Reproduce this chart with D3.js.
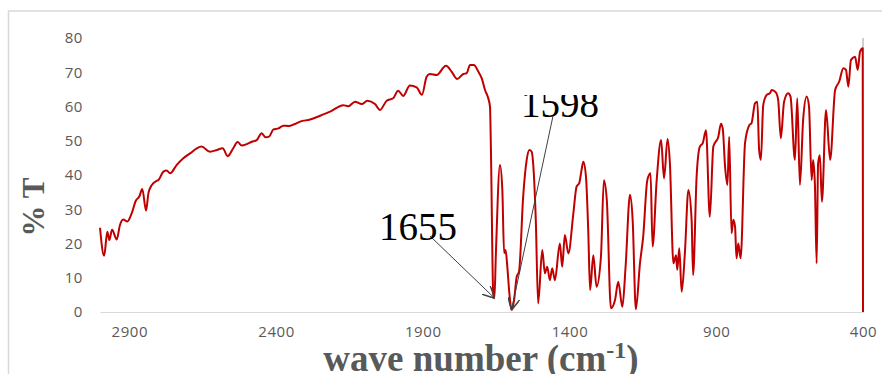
<!DOCTYPE html>
<html>
<head>
<meta charset="utf-8">
<script src="https://cdn.jsdelivr.net/npm/d3@7"></script>
<style>
  body { margin: 0; background: #fff; }
  svg { display: block; }
</style>
</head>
<body>
<div id="chart"></div>
<script>
// IR spectrum, wavenumber (cm-1) vs %T
const waveNumbers = [3000, 2986, 2975, 2968, 2959, 2943, 2932, 2921, 2907, 2892, 2878, 2866, 2856, 2843, 2835, 2824, 2807, 2801, 2784, 2773,
  2761, 2739, 2716, 2693, 2670, 2654, 2625, 2602, 2582, 2565, 2546, 2531, 2517, 2500, 2483, 2466, 2449, 2436, 2424, 2409,
  2392, 2375, 2358, 2336, 2318, 2284, 2250, 2216, 2171, 2154, 2131, 2108, 2089, 2063, 2046, 2023, 2001, 1984, 1967, 1944,
  1921, 1903, 1887, 1876, 1853, 1821, 1802, 1783, 1762, 1751, 1739, 1726, 1711, 1699, 1688, 1677, 1671, 1668, 1660, 1656,
  1651, 1637, 1629, 1623, 1618, 1612, 1605, 1597, 1589, 1580, 1572, 1558, 1546, 1537, 1529, 1524, 1515, 1507, 1493, 1484,
  1476, 1467, 1459, 1450, 1433, 1425, 1416, 1404, 1387, 1376, 1367, 1359, 1353, 1344, 1336, 1330, 1319, 1308, 1293, 1283,
  1273, 1259, 1245, 1234, 1220, 1209, 1194, 1185, 1174, 1160, 1149, 1135, 1124, 1117, 1103, 1088, 1078, 1066, 1058, 1046,
  1037, 1033, 1026, 1018, 1007, 995, 984, 979, 967, 956, 946, 935, 922, 910, 893, 884, 878, 870, 862, 856,
  848, 842, 836, 831, 825, 817, 802, 787, 780, 768, 760, 754, 748, 740, 728, 717, 711, 697, 689, 680,
  669, 655, 647, 632, 624, 615, 604, 592, 584, 575, 570, 564, 558, 553, 547, 540, 526, 512, 495, 481,
  467, 458, 450, 441, 427, 418, 410, 401, 400];
const transmittance = [24.6, 16.4, 23.4, 21.0, 24.0, 21.2, 25.4, 27.0, 26.4, 28.8, 32.5, 33.7, 35.9, 29.6, 34.7, 37.0, 38.3, 38.5, 41.0, 41.3,
  40.5, 42.9, 44.9, 46.3, 47.8, 48.3, 46.8, 47.3, 47.8, 45.5, 47.8, 49.6, 48.6, 49.0, 49.7, 50.2, 52.2, 51.0, 51.2, 53.3,
  53.6, 54.4, 54.3, 54.9, 55.6, 56.2, 57.3, 58.5, 60.4, 60.1, 61.4, 60.7, 61.7, 60.7, 59.0, 61.7, 62.4, 64.6, 63.1, 66.1,
  65.6, 63.4, 68.7, 69.5, 69.2, 71.9, 70.2, 68.0, 69.5, 69.7, 72.1, 72.1, 70.2, 68.2, 64.8, 62.4, 59.9, 48.0, 5.4, 4.0,
  17.0, 42.9, 35.6, 17.2, 18.1, 13.2, 5.4, 0.6, 3.5, 10.3, 11.8, 33.7, 44.4, 47.3, 46.8, 43.4, 26.9, 2.5, 18.1, 11.3,
  13.2, 9.3, 12.8, 9.3, 20.0, 13.2, 22.5, 17.1, 28.8, 36.6, 37.6, 41.5, 43.9, 39.5, 23.0, 6.4, 16.6, 7.4, 16.1, 38.5,
  32.7, 1.1, 3.5, 8.8, 1.5, 13.2, 34.2, 27.0, 0.8, 14.2, 22.0, 38.5, 40.5, 19.1, 38.5, 50.2, 39.0, 50.5, 43.4, 14.2,
  16.6, 12.3, 18.6, 5.9, 17.1, 35.6, 26.9, 10.8, 39.5, 48.3, 49.3, 53.1, 27.8, 48.3, 51.2, 55.0, 53.6, 42.4, 37.1, 51.2,
  23.0, 26.9, 24.9, 15.7, 20.0, 15.7, 49.3, 54.6, 55.1, 60.9, 61.4, 47.3, 44.4, 60.4, 63.4, 63.9, 64.8, 64.1, 61.9, 50.7,
  61.4, 63.9, 62.9, 44.4, 62.4, 37.1, 56.1, 62.9, 60.0, 38.5, 44.4, 37.6, 14.2, 43.4, 45.8, 32.2, 59.0, 44.4, 64.8, 67.3,
  71.2, 70.7, 65.8, 73.6, 74.5, 70.7, 76.0, 77.0, 0];

const xTicks = [2900, 2400, 1900, 1400, 900, 400];
const yTicks = [0, 10, 20, 30, 40, 50, 60, 70, 80];

// peak labels
const peakLabels = ["1655", "1598"];
const peakWave = [1655, 1598];
const peakT = [4.0, 0.5];

const width = 882, height = 374;
const plotLeft = 100, plotRight = 863, plotTop = 38, plotBottom = 312;

const svg = d3.select('#chart').append('svg')
  .attr('width', width)
  .attr('height', height);

svg.append('rect')
  .attr('x', 8.5).attr('y', 11)
  .attr('width', 900).attr('height', 400)
  .attr('fill', 'none')
  .attr('stroke', '#d9d9d9')
  .attr('stroke-width', 1.5);

const x = d3.scaleLinear().domain([3000, 400]).range([plotLeft, plotRight]);
const y = d3.scaleLinear().domain([0, 80]).range([plotBottom, plotTop]);

const tickFont = '"Open Sans", sans-serif';

// x axis
const xAxis = svg.append('g')
  .attr('transform', `translate(0,${plotBottom})`)
  .call(d3.axisBottom(x).tickValues(xTicks).tickFormat(d3.format('d')).tickSize(0).tickPadding(14));
xAxis.select('.domain').attr('stroke', '#d9d9d9').attr('stroke-width', 1.2);
xAxis.selectAll('text')
  .attr('fill', '#595959')
  .style('font-family', tickFont)
  .style('font-size', '15px')
  .style('letter-spacing', '0.6px');

// y axis (labels only)
const yAxis = svg.append('g')
  .attr('transform', `translate(${plotLeft},0)`)
  .call(d3.axisLeft(y).tickValues(yTicks).tickSize(0).tickPadding(17));
yAxis.select('.domain').remove();
yAxis.selectAll('text')
  .attr('fill', '#595959')
  .style('font-family', tickFont)
  .style('font-size', '15px')
  .style('letter-spacing', '0.6px');

// thin grey edge at the right end
svg.append('line')
  .attr('x1', x(400)).attr('x2', x(400))
  .attr('y1', y(80)).attr('y2', y(0))
  .attr('stroke', '#bfbfbf')
  .attr('stroke-width', 1.5);

const pts = waveNumbers.map((w, i) => [w, transmittance[i]]);
const line = d3.line()
  .x(d => x(d[0]))
  .y(d => y(d[1]))
  .curve(d3.curveMonotoneX);

svg.append('path')
  .datum(pts)
  .attr('d', line)
  .attr('fill', 'none')
  .attr('stroke', '#c00000')
  .attr('stroke-width', 2)
  .attr('stroke-linejoin', 'round');

// axis titles
svg.append('text')
  .attr('transform', 'translate(44,207) rotate(-90)')
  .attr('text-anchor', 'middle')
  .attr('fill', '#595959')
  .style('font-family', '"Liberation Serif", "Times New Roman", serif')
  .style('font-weight', 'bold')
  .style('font-size', '31px')
  .text('% T');

const xt = svg.append('text')
  .attr('x', 481).attr('y', 371)
  .attr('text-anchor', 'middle')
  .attr('fill', '#595959')
  .style('font-family', '"Liberation Serif", "Times New Roman", serif')
  .style('font-weight', 'bold')
  .style('font-size', '37px');
xt.append('tspan').text('wave number (cm');
xt.append('tspan').attr('dy', -13).style('font-size', '24px').text('-1');
xt.append('tspan').attr('dy', 13).text(')');

// annotations
svg.append('defs').append('marker')
  .attr('id', 'arrow')
  .attr('viewBox', '0 0 10 10')
  .attr('refX', 10).attr('refY', 5)
  .attr('markerWidth', 12).attr('markerHeight', 12)
  .attr('markerUnits', 'userSpaceOnUse')
  .attr('orient', 'auto')
  .append('path')
  .attr('d', 'M0,0 L10,5 L0,10')
  .attr('fill', 'none')
  .attr('stroke', '#404040')
  .attr('stroke-width', 1.2);

svg.select('defs').append('clipPath')
  .attr('id', 'clip1598')
  .append('rect').attr('x', 0).attr('y', 95).attr('width', width).attr('height', height);

const labelPos = [[418, 240], [560, 117]];
const tailPos = [[430, 236], [553, 116]];

peakLabels.forEach((lab, i) => {
  svg.append('line')
    .attr('x1', tailPos[i][0]).attr('y1', tailPos[i][1])
    .attr('x2', x(peakWave[i])).attr('y2', y(peakT[i]))
    .attr('stroke', '#404040')
    .attr('stroke-width', 1)
    .attr('marker-end', 'url(#arrow)');
  svg.append('text')
    .attr('x', labelPos[i][0]).attr('y', labelPos[i][1])
    .attr('text-anchor', 'middle')
    .attr('clip-path', i === 1 ? 'url(#clip1598)' : null)
    .attr('fill', '#000')
    .style('font-family', '"Liberation Serif", "Times New Roman", serif')
    .style('font-size', '39px')
    .text(lab);
});
</script>
</body>
</html>
